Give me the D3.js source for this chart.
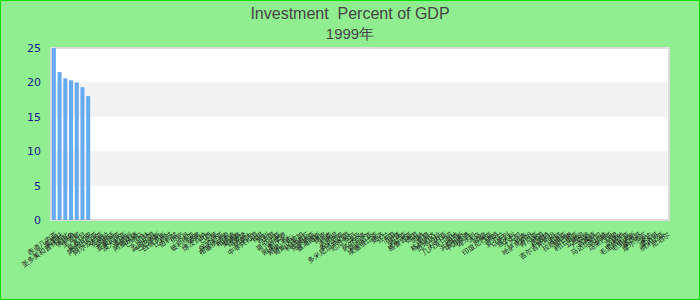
<!DOCTYPE html>
<html>
<head>
<meta charset="utf-8">
<script src="https://cdn.jsdelivr.net/npm/d3@7"></script>
<style>
  body { margin: 0; background: #fff; }
  svg { display: block; }
</style>
</head>
<body>
<svg id="chart"></svg>
<script>
const chartTitle = "Investment  Percent of GDP";
const chartSubtitle = "1999年";

const countries = [
  "赤道几内亚", "莱索托", "圣多美和普林西比", "佛得角", "圭亚那", "约旦", "莫桑比克",
  "阿尔巴尼亚", "阿尔及利亚", "安哥拉", "阿根廷", "亚美尼亚", "澳大利亚", "奥地利",
  "阿塞拜疆", "巴哈马", "巴林", "孟加拉国", "巴巴多斯", "白俄罗斯", "比利时", "伯利兹",
  "贝宁", "不丹", "玻利维亚", "波黑", "博茨瓦纳", "巴西", "文莱", "保加利亚",
  "布基纳法索", "布隆迪", "柬埔寨", "喀麦隆", "加拿大", "中非共和国", "乍得", "智利",
  "中国", "哥伦比亚", "科摩罗", "刚果（金）", "刚果（布）", "哥斯达黎加", "科特迪瓦",
  "克罗地亚", "塞浦路斯", "捷克", "丹麦", "吉布提", "多米尼克", "多米尼加共和国",
  "厄瓜多尔", "埃及", "萨尔瓦多", "爱沙尼亚", "埃塞俄比亚", "斐济", "芬兰", "法国",
  "加蓬", "冈比亚", "格鲁吉亚", "德国", "加纳", "希腊", "格林纳达", "危地马拉",
  "几内亚", "几内亚比绍", "海地", "洪都拉斯", "中国香港", "匈牙利", "冰岛", "印度",
  "印度尼西亚", "伊朗", "爱尔兰", "以色列", "意大利", "牙买加", "日本", "哈萨克斯坦",
  "肯尼亚", "韩国", "科威特", "吉尔吉斯斯坦", "老挝", "拉脱维亚", "黎巴嫩", "利比里亚",
  "立陶宛", "卢森堡", "马其顿", "马达加斯加", "马拉维", "马来西亚", "马里", "马耳他",
  "毛里塔尼亚", "毛里求斯", "墨西哥", "摩尔多瓦", "蒙古", "摩洛哥", "纳米比亚", "尼泊尔"
];
const investmentPct = [25.0, 21.5, 20.6, 20.3, 20.0, 19.3, 18.0];

const yTicks = [0, 5, 10, 15, 20, 25];

const W = 700, H = 300;
const margin = { top: 48, right: 31, bottom: 80, left: 51 };
const plotW = W - margin.left - margin.right;
const plotH = H - margin.top - margin.bottom;

const svg = d3.select("#chart").attr("width", W).attr("height", H);

svg.append("rect")
  .attr("x", 0.5).attr("y", 0.5)
  .attr("width", W - 1).attr("height", H - 1)
  .attr("fill", "#90ee90")
  .attr("stroke", "#00e000");

// titles (keep the double space)
svg.append("text")
  .attr("x", W / 2).attr("y", 19)
  .attr("text-anchor", "middle")
  .attr("font-family", "'Liberation Sans', Arial, sans-serif")
  .attr("font-size", 16)
  .attr("fill", "#444")
  .style("white-space", "pre")
  .text(chartTitle);
svg.append("text")
  .attr("x", W / 2).attr("y", 39)
  .attr("text-anchor", "middle")
  .attr("font-family", "'Liberation Sans', Arial, sans-serif")
  .attr("font-size", 15)
  .attr("fill", "#444")
  .text(chartSubtitle);

const g = svg.append("g").attr("transform", `translate(${margin.left},${margin.top})`);

const x = d3.scaleBand().domain(countries).range([0, plotW]).paddingInner(0.3).paddingOuter(0.15);
const y = d3.scaleLinear().domain([0, 25]).range([plotH, 0]);

// plot background + alternating bands
g.append("rect")
  .attr("width", plotW).attr("height", plotH)
  .attr("fill", "#fff");
g.selectAll(".band")
  .data(d3.pairs(yTicks).filter((d, i) => i % 2 === 1))
  .join("rect")
  .attr("class", "band")
  .attr("x", 0).attr("width", plotW)
  .attr("y", d => y(d[1]))
  .attr("height", d => y(d[0]) - y(d[1]))
  .attr("fill", "#f2f2f2");
g.append("rect")
  .attr("width", plotW).attr("height", plotH)
  .attr("fill", "none")
  .attr("stroke", "#dcdcdc")
  .attr("stroke-width", 2);

// bars
g.selectAll(".bar")
  .data(investmentPct)
  .join("rect")
  .attr("class", "bar")
  .attr("x", (d, i) => x(countries[i]))
  .attr("width", x.bandwidth())
  .attr("y", d => y(d))
  .attr("height", d => plotH - y(d))
  .attr("fill", "#66aaf2");

// y axis
const yAxis = g.append("g")
  .call(d3.axisLeft(y).tickValues(yTicks).tickSize(0).tickPadding(10));
yAxis.select(".domain").remove();
yAxis.selectAll("text")
  .attr("font-family", "'DejaVu Sans', sans-serif")
  .attr("font-size", 11)
  .attr("fill", "#1a1a8c");

// x axis
const xAxis = g.append("g")
  .attr("transform", `translate(0,${plotH})`)
  .call(d3.axisBottom(x).tickSize(0).tickPadding(0));
xAxis.select(".domain").remove();
xAxis.selectAll("text")
  .attr("font-family", "'Noto Sans CJK SC', sans-serif")
  .attr("font-size", 7)
  .attr("fill", "#222")
  .attr("text-anchor", "end")
  .attr("dy", "0.3em")
  .attr("transform", "translate(3,14) rotate(-35)");
</script>
</body>
</html>
